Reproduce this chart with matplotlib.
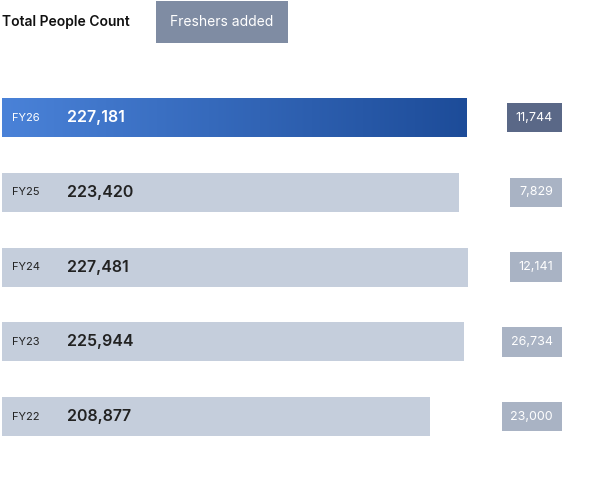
import matplotlib
matplotlib.use("Agg")
import matplotlib.pyplot as plt
import numpy as np

years = ["FY26", "FY25", "FY24", "FY23", "FY22"]
people = [227181, 223420, 227481, 225944, 208877]
freshers = [11744, 7829, 12141, 26734, 23000]

plt.rcParams['font.family'] = ['Inter', 'DejaVu Sans']
W, H = 596, 500
fig = plt.figure(figsize=(W/100, H/100), dpi=100)
ax = fig.add_axes([0, 0, 1, 1])
ax.axis('off')
s = 465 / 227181
step = 74.75

ys = np.arange(len(years))
colors = ['none'] + ['#c5cedc'] * (len(years) - 1)
bars = ax.barh(ys, people, height=39/step, color=colors, edgecolor='none')

b = bars[0]
grad = np.linspace(0, 1, 256).reshape(1, -1)
cmap = matplotlib.colors.LinearSegmentedColormap.from_list('g', ['#4a82d8', '#1d4c99'])
x0, y0, w, h = b.get_x(), b.get_y(), b.get_width(), b.get_height()
ax.imshow(grad, extent=[x0, x0 + w, y0 + h, y0], aspect='auto', cmap=cmap, zorder=2)
ax.set_ylim((H - 117.5) / step, -117.5 / step)
ax.set_xlim(-2 / s, (W - 2) / s)

fx = 561 / s - 2 / s
for i in ys:
    dark = i == 0
    tc = 'white' if dark else '#222222'
    ax.text(12 / s - 2 / s, i, years[i], fontsize=8, color=tc, va='center', ha='left', zorder=3)
    ax.text(67 / s - 2 / s, i, f"{people[i]:,}", fontsize=11.5, fontweight='semibold', color=tc,
            va='center', ha='left', zorder=3)
    ax.text(fx - 8 / s, i, f"{freshers[i]:,}", fontsize=9, color='white', va='center', ha='right',
            zorder=3, bbox=dict(boxstyle='square,pad=0.7', fc='#5a6887' if dark else '#a9b3c4', ec='none'))

fig.text(2/W, 1 - 22/H, "Total People Count", fontsize=10, fontweight='semibold', color='#111111', va='center')
fig.text(222/W, 1 - 22/H, "Freshers added", fontsize=10, color='white', va='center', ha='center',
         bbox=dict(boxstyle='square,pad=1.0', fc='#7f8ca3', ec='none'))
fig.savefig("out.png", dpi=100)
